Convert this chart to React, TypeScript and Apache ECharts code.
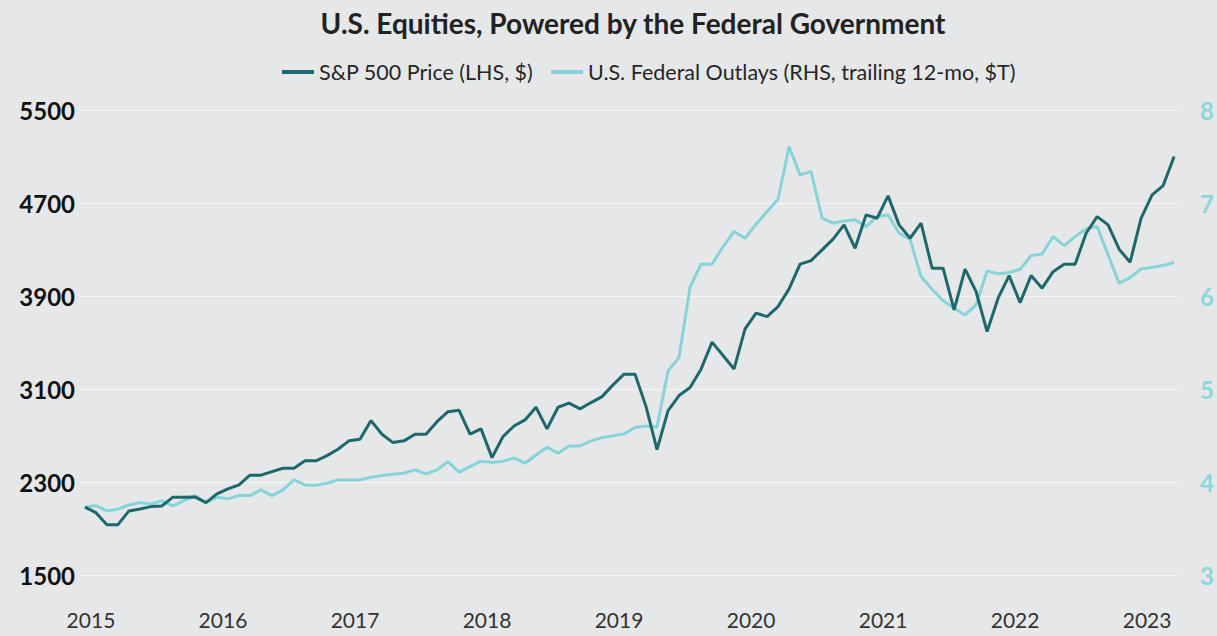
import React, { useEffect, useRef } from "react";
import * as echarts from "echarts";

const yearLabels = ["2015", "2016", "2017", "2018", "2019", "2020", "2021", "2022", "2023"];

const sp500Price = [
  2087, 2040, 1937, 1937, 2055, 2072, 2092, 2098, 2173, 2173, 2175, 2126,
  2201, 2244, 2279, 2362, 2362, 2393, 2422, 2422, 2485, 2485, 2530, 2585,
  2657, 2671, 2831, 2714, 2642, 2657, 2714, 2714, 2822, 2908, 2920, 2714,
  2760, 2513, 2694, 2785, 2837, 2946, 2760, 2946, 2981, 2932, 2986, 3037,
  3138, 3230, 3230, 2951, 2582, 2917, 3046, 3115, 3273, 3505, 3390, 3275,
  3619, 3754, 3725, 3811, 3963, 4175, 4206, 4298, 4390, 4513, 4312, 4599,
  4570, 4762, 4513, 4398, 4527, 4141, 4141, 3782, 4132, 3940, 3596, 3883,
  4077, 3845, 4077, 3969, 4111, 4175, 4175, 4441, 4584, 4513, 4304, 4192,
  4570, 4770, 4850, 5100,
];

const federalOutlays = [
  3.734, 3.751, 3.694, 3.712, 3.758, 3.783, 3.766, 3.805, 3.748, 3.805, 3.855, 3.783,
  3.841, 3.823, 3.858, 3.858, 3.919, 3.858, 3.919, 4.027, 3.973, 3.97, 3.991, 4.027,
  4.027, 4.027, 4.055, 4.073, 4.088, 4.099, 4.134, 4.091, 4.134, 4.223, 4.11, 4.17,
  4.228, 4.213, 4.228, 4.263, 4.206, 4.295, 4.378, 4.314, 4.392, 4.392, 4.446, 4.481,
  4.5, 4.521, 4.589, 4.607, 4.595, 5.198, 5.341, 6.097, 6.344, 6.344, 6.533, 6.694,
  6.623, 6.773, 6.909, 7.042, 7.607, 7.303, 7.338, 6.838, 6.784, 6.809, 6.82, 6.748,
  6.855, 6.873, 6.677, 6.61, 6.211, 6.075, 5.953, 5.871, 5.799, 5.907, 6.272, 6.24,
  6.254, 6.29, 6.436, 6.454, 6.64, 6.544, 6.64, 6.723, 6.748, 6.444, 6.14, 6.2,
  6.293, 6.311, 6.329, 6.365,
];

const leftTicks = { min: 1500, max: 5500, interval: 800 };
const rightTicks = { min: 3, max: 8, interval: 1 };

const SP_NAME = "S&P 500 Price (LHS, $)";
const FO_NAME = "U.S. Federal Outlays (RHS, trailing 12-mo, $T)";
const DARK = "#1e686c";
const TEAL = "#86d3d8";
const FONT = "Lato, 'Open Sans', sans-serif";

export default function App() {
  const ref = useRef<HTMLDivElement>(null);

  useEffect(() => {
    document.body.style.margin = "0";
    if (!ref.current) return;
    const chart = echarts.init(ref.current, undefined, { renderer: "svg" });
    const yearTickValues = yearLabels.map((_, k) => k * 12);
    const spData = sp500Price.map((v, i) => [i, v]);
    const foData = federalOutlays.map((v, i) => [i, v]);

    chart.setOption({
      animation: false,
      backgroundColor: "#e6e7e9",
      title: {
        text: "U.S. Equities, Powered by the Federal Government",
        left: 633,
        top: 9,
        textAlign: "center",
        padding: 0,
        textStyle: {
          fontFamily: FONT,
          fontWeight: "bold",
          fontSize: 28,
          color: "#222222",
        },
      },
      legend: [
        {
          data: [SP_NAME],
          left: 282,
          top: 61,
          padding: 0,
          icon: "rect",
          itemWidth: 32,
          itemHeight: 4,
          textStyle: { fontFamily: FONT, fontSize: 21.5, color: "#262626" },
        },
        {
          data: [FO_NAME],
          left: 551,
          top: 61,
          padding: 0,
          icon: "rect",
          itemWidth: 32,
          itemHeight: 4,
          textStyle: { fontFamily: FONT, fontSize: 21.5, color: "#262626" },
        },
      ],
      grid: { left: 80, right: 33, top: 110, bottom: 60.5, containLabel: false },
      xAxis: {
        type: "value",
        min: -0.45,
        max: sp500Price.length - 1 + 0.45,
        axisLine: { show: false },
        axisTick: { show: false },
        splitLine: { show: false },
        axisLabel: {
          customValues: yearTickValues,
          formatter: (v: number) => yearLabels[Math.round(v / 12)] ?? "",
          fontFamily: FONT,
          fontSize: 21,
          color: "#333333",
          margin: 33,
          padding: [0, 0, 0, 12],
        },
      },
      yAxis: [
        {
          type: "value",
          position: "left",
          min: leftTicks.min,
          max: leftTicks.max,
          interval: leftTicks.interval,
          axisLine: { show: false },
          axisTick: { show: false },
          axisLabel: {
            formatter: (v: number) => String(v),
            fontFamily: FONT,
            fontWeight: "bold",
            fontSize: 24,
            color: "#111111",
            margin: 5,
          },
          splitLine: { show: true, lineStyle: { color: "#f6f6f7", width: 1.2 } },
        },
        {
          type: "value",
          position: "right",
          min: rightTicks.min,
          max: rightTicks.max,
          interval: rightTicks.interval,
          axisLine: { show: false },
          axisTick: { show: false },
          axisLabel: {
            formatter: (v: number) => String(v),
            fontFamily: FONT,
            fontWeight: "bold",
            fontSize: 24,
            color: "#8dd6db",
            margin: 21,
          },
          splitLine: { show: false },
        },
      ],
      series: [
        {
          name: FO_NAME,
          type: "line",
          yAxisIndex: 1,
          data: foData,
          showSymbol: false,
          symbol: "none",
          color: TEAL,
          lineStyle: { color: TEAL, width: 3 },
          itemStyle: { color: TEAL },
        },
        {
          name: SP_NAME,
          type: "line",
          yAxisIndex: 0,
          data: spData,
          showSymbol: false,
          symbol: "none",
          color: DARK,
          lineStyle: { color: DARK, width: 3 },
          itemStyle: { color: DARK },
        },
      ],
    });

    return () => chart.dispose();
  }, []);

  return (
    <div
      ref={ref}
      style={{ position: "absolute", left: 0, top: 0, width: 1217, height: 636 }}
    />
  );
}
